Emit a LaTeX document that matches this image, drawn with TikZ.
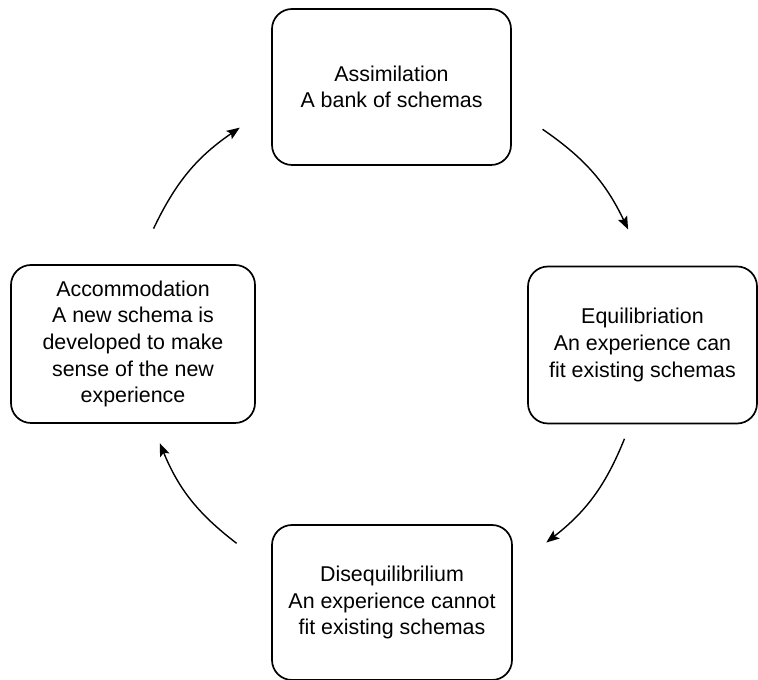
\documentclass[tikz,border=0pt]{standalone}
\usepackage{fontspec}
\setmainfont{Liberation Sans}
\usetikzlibrary{arrows.meta, calc}

\begin{document}
\begin{tikzpicture}[x=1pt, y=1pt, font=\fontsize{21.4}{26.7}\selectfont,
  stage/.style={draw, line width=1.7pt, rounded corners=20pt, align=center, inner sep=0pt},
  cyc/.style={line width=1.4pt, -{Stealth[length=13pt, width=10pt, inset=2.5pt]}}]
\useasboundingbox (0,0) rectangle (758,680);
% ---------- the four stages of the cycle ----------
\node[stage, minimum width=239, minimum height=156] (assim) at (391.5,593)
  {Assimilation\\A bank of schemas};
\node[stage, minimum width=229, minimum height=157] (equil) at (642.5,335)
  {Equilibriation\\An experience can\\fit existing schemas};
\node[stage, minimum width=240, minimum height=155] (diseq) at (392,77.5)
  {Disequilibrilium\\An experience cannot\\fit existing schemas};
\node[stage, minimum width=244, minimum height=158] (accom) at (133,336)
  {Accommodation\\A new schema is\\developed to make\\sense of the new\\experience};
% ---------- clockwise arcs round the middle ----------
\coordinate (hub) at ($(assim)!0.5!(diseq)$);
\foreach \s/\e/\r [count=\n] in {55/26/263, -22/-52/251, -128/-157/252, 154/125/265} {
  \coordinate (from\n) at ($(hub)+(\s:\r)$);
  \coordinate (to\n) at ($(hub)+(\e:\r)$);
  \draw[cyc] (from\n) to[bend left=15] (to\n);
}
\end{tikzpicture}
\end{document}
